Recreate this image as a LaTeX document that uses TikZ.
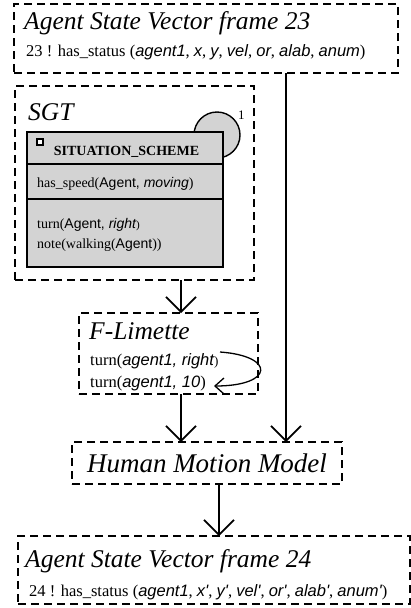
\documentclass[tikz,border=0pt]{standalone}
\usepackage{fontspec}
\setmainfont{Liberation Serif}
\newfontfamily\hvfont{Liberation Sans}
\usetikzlibrary{arrows.meta}
\newcommand\si[1]{{\hvfont\itshape #1}}
\newcommand\su[1]{{\hvfont #1}}
\definecolor{schemegray}{RGB}{211,211,211}
\tikzset{
 dbox/.style={draw, dash pattern=on 8pt off 5pt, line width=1.2pt, inner sep=0pt, outer sep=0pt, anchor=north west},
 ttl/.style={font=\fontsize{25.5}{30}\selectfont\itshape, anchor=base west, inner sep=0pt},
 bodytxt/.style={font=\fontsize{16.5}{20}\selectfont, anchor=base west, inner sep=0pt},
 smalltxt/.style={font=\fontsize{14}{17}\selectfont, anchor=base west, inner sep=0pt},
 arr/.style={line width=1.6pt, -{Straight Barb[length=15pt,width=30pt]}},
}
\begin{document}
\begin{tikzpicture}[x=1pt,y=-1pt]
\useasboundingbox (0,0) rectangle (411,608);
% top state vector
\node[dbox, minimum width=384pt, minimum height=69pt] (asv23) at (14,4) {};
\node[ttl] (t23) at (24,29) {Agent State Vector frame 23};
\node[bodytxt] (l23) at (26,56) {23 ! has\_status (\si{agent1}, \si{x}, \si{y}, \si{vel}, \si{or}, \si{alab}, \si{anum})};
% SGT
\node[dbox, minimum width=239pt, minimum height=194pt] (sgt) at (15,86) {};
\node[ttl] (sgtl) at (28,120) {SGT};
\node[circle, draw, line width=1.4pt, fill=schemegray, minimum size=46pt, inner sep=0pt] (loop) at (217,135) {};
\node[anchor=base west, font=\fontsize{13}{14}\selectfont, inner sep=0pt] (one) at (238,119) {1};
\node[draw, fill=schemegray, line width=1.5pt, minimum width=196pt, minimum height=135pt, anchor=north west, inner sep=0pt, outer sep=0pt] (scheme) at (27,132) {};
\draw[line width=1.5pt] (scheme.west |- 0,164) -- (scheme.east |- 0,164);
\draw[line width=1.5pt] (scheme.west |- 0,199) -- (scheme.east |- 0,199);
\node[draw, line width=1.2pt, fill=white, minimum size=6pt, inner sep=0pt] (icon) at (40,142) {};
\node[font=\bfseries\fontsize{14}{17}\selectfont, anchor=base, inner sep=0pt] (sshead) at (126.5,155) {SITUATION\_SCHEME};
\node[smalltxt] (hs) at (37,187) {has\_speed(\su{Agent, }\si{moving})};
\node[smalltxt] (tr) at (37,228) {turn(\su{Agent, }\si{right}{\fontsize{11}{12}\selectfont )}};
\node[smalltxt] (nt) at (37,248) {note(walking(\su{Agent}))};
% F-Limette
\node[dbox, minimum width=179pt, minimum height=81pt] (flim) at (79,313) {};
\node[ttl] (flt) at (89,339) {F-Limette};
\node[bodytxt] (fl1) at (90,365) {turn(\si{agent1, right}{\fontsize{13}{15}\selectfont )}};
\node[bodytxt] (fl2) at (90,387) {turn(\si{agent1, 10})};
\coordinate (cs) at (220,352);
\coordinate (ce) at (214,386);
\draw[line width=1.3pt, -{Straight Barb[length=9pt,width=16pt]}] (cs) .. controls (276,356) and (274,386) .. (ce);
% Human Motion Model
\node[dbox, minimum width=270pt, minimum height=42pt] (hmm) at (72,442) {};
\node[ttl, anchor=base, font=\fontsize{27}{32}\selectfont\itshape] (hmmt) at (207,472) {Human Motion Model};
% bottom state vector
\node[dbox, minimum width=392pt, minimum height=68pt] (asv24) at (18,536) {};
\node[ttl] (t24) at (25,567) {Agent State Vector frame 24};
\node[bodytxt] (l24) at (29,596) {24 ! has\_status (\si{agent1}, \si{x'}, \si{y'}, \si{vel'}, \si{or'}, \si{alab'}, \si{anum'})};
% arrows
\draw[arr] (181,0 |- sgt.south) -- (181,0 |- flim.north);
\draw[arr] (181,0 |- flim.south) -- (181,0 |- hmm.north);
\draw[arr] (286,0 |- asv23.south) -- (286,0 |- hmm.north);
\draw[arr] (219,0 |- hmm.south) -- (219,0 |- asv24.north);
\end{tikzpicture}
\end{document}
